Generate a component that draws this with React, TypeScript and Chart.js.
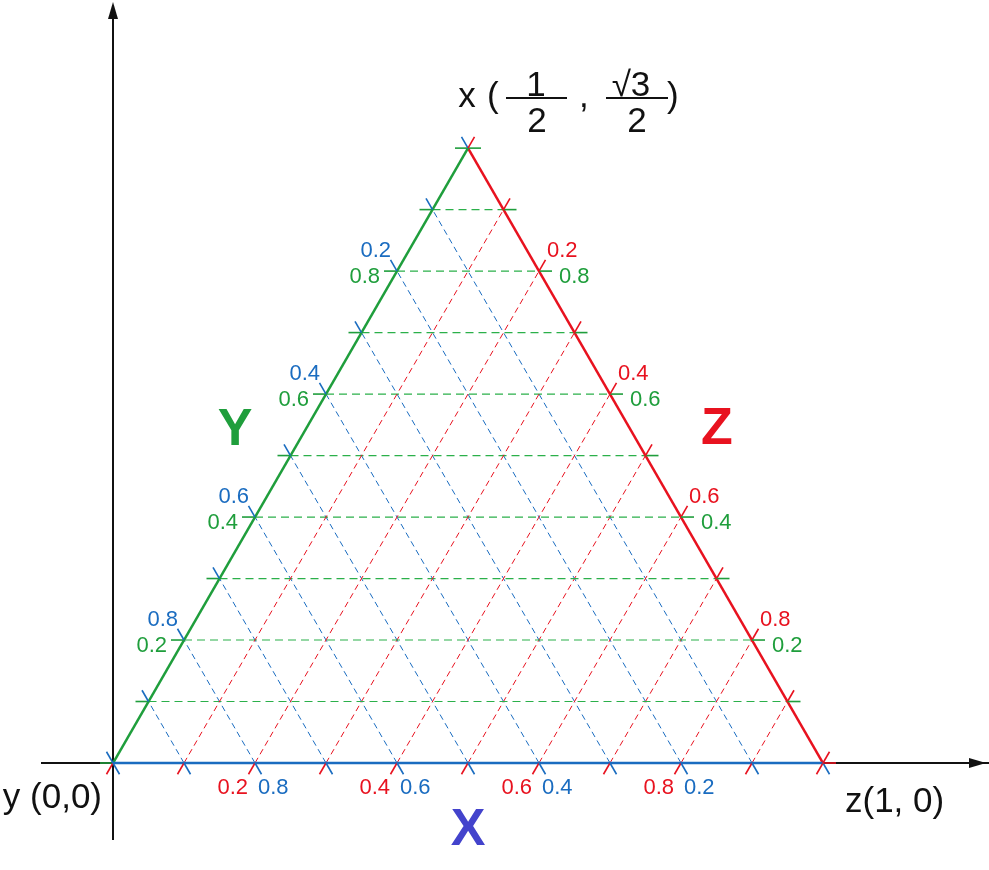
import React, { useEffect, useRef } from 'react';
import { Chart, registerables } from 'chart.js';

Chart.register(...registerables);

const H = Math.sqrt(3) / 2;

// grid divisions along each side (fraction of the side)
const gridFractions = [0, 0.1, 0.2, 0.3, 0.4, 0.5, 0.6, 0.7, 0.8, 0.9, 1];
// divisions that carry numeric tick labels
const labeledFractions = [0.2, 0.4, 0.6, 0.8];
// component names: bottom side, left side, right side
const sideNames = ['X', 'Y', 'Z'];
// vertices: bottom-left, bottom-right, top
const vertexXs = [0, 1, 0.5];
const vertexYs = [0, 0, H];
const vertexLabels = ['y (0,0)', 'z(1, 0)'];
const topLabelParts = ['x', '(', '1', '2', ',', '√3', '2', ')'];

const GREEN = '#1f9e3c';
const GRID_GREEN = '#2bb04a';
const RED = '#e8121f';
const BLUE = '#1a6cc0';
const XCOL = '#4343cc';
const BLACK = '#111111';

const UNIT = 710; // pixels per data unit
const TICK = 13 / UNIT;
const FONT = '"Liberation Sans", Arial, Helvetica, sans-serif';

type P = { x: number; y: number };

function seg(a: P, b: P, color: string, width: number, dash: number[], order: number) {
  return {
    data: [a, b],
    showLine: true,
    borderColor: color,
    backgroundColor: color,
    borderWidth: width,
    borderDash: dash,
    pointRadius: 0,
    pointHoverRadius: 0,
    fill: false,
    tension: 0,
    order,
    clip: false as any,
  };
}

function buildDatasets() {
  const ds: any[] = [];
  // axes
  ds.push(seg({ x: -72 / UNIT, y: 0 }, { x: 975 / UNIT, y: 0 }, BLACK, 2, [], 20));
  ds.push(seg({ x: 0, y: -77 / UNIT }, { x: 0, y: 750 / UNIT }, BLACK, 2, [], 20));
  const up = { x: 0.5, y: H };
  const upLeft = { x: -0.5, y: H };
  // dashed grid
  gridFractions.forEach((b) => {
    if (b === 0 || b === 1) return;
    ds.push(seg({ x: b, y: 0 }, { x: b / 2, y: b * H }, BLUE, 1, [6, 4], 10));
    ds.push(seg({ x: b, y: 0 }, { x: (1 + b) / 2, y: (1 - b) * H }, RED, 1, [6, 4], 10));
    ds.push(seg({ x: b / 2, y: b * H }, { x: 1 - b / 2, y: b * H }, GRID_GREEN, 1.2, [8, 5], 10));
  });
  // edges
  ds.push(seg({ x: vertexXs[0], y: vertexYs[0] }, { x: vertexXs[1], y: vertexYs[1] }, BLUE, 2.5, [], 5));
  ds.push(seg({ x: vertexXs[0], y: vertexYs[0] }, { x: vertexXs[2], y: vertexYs[2] }, GREEN, 2.5, [], 5));
  ds.push(seg({ x: vertexXs[1], y: vertexYs[1] }, { x: vertexXs[2], y: vertexYs[2] }, RED, 2.5, [], 5));
  // ticks
  gridFractions.forEach((b) => {
    const left = { x: b / 2, y: b * H };
    const bottom = { x: b, y: 0 };
    const right = { x: (1 + b) / 2, y: (1 - b) * H };
    const rightH = { x: 1 - b / 2, y: b * H };
    ds.push(seg(left, { x: left.x + TICK * upLeft.x, y: left.y + TICK * upLeft.y }, BLUE, 1.6, [], 1));
    ds.push(seg(bottom, { x: bottom.x - TICK * upLeft.x, y: bottom.y - TICK * upLeft.y }, BLUE, 1.6, [], 1));
    ds.push(seg(bottom, { x: bottom.x - TICK * up.x, y: bottom.y - TICK * up.y }, RED, 1.6, [], 1));
    ds.push(seg(right, { x: right.x + TICK * up.x, y: right.y + TICK * up.y }, RED, 1.6, [], 1));
    ds.push(seg(left, { x: left.x - TICK, y: left.y }, GREEN, 1.6, [], 1));
    ds.push(seg(rightH, { x: rightH.x + TICK, y: rightH.y }, b === 0 ? RED : GREEN, 1.6, [], 1));
  });
  return ds;
}

const fmt = (v: number) => v.toFixed(1);

const textPlugin = {
  id: 'ternaryText',
  afterDatasetsDraw(chart: any) {
    const { ctx } = chart;
    const sx = chart.scales.x;
    const sy = chart.scales.y;
    const px = (v: number) => sx.getPixelForValue(v);
    const py = (v: number) => sy.getPixelForValue(v);
    ctx.save();

    // arrowheads
    ctx.fillStyle = BLACK;
    const ox = px(0), oy = py(0);
    const tipY = py(761 / UNIT);
    ctx.beginPath();
    ctx.moveTo(ox, tipY);
    ctx.lineTo(ox - 5, tipY + 17);
    ctx.lineTo(ox + 5, tipY + 17);
    ctx.closePath();
    ctx.fill();
    const tipX = px(873 / UNIT);
    ctx.beginPath();
    ctx.moveTo(tipX, oy);
    ctx.lineTo(tipX - 17, oy - 5);
    ctx.lineTo(tipX - 17, oy + 5);
    ctx.closePath();
    ctx.fill();

    // tick labels
    ctx.font = `22px ${FONT}`;
    ctx.textBaseline = 'alphabetic';
    labeledFractions.forEach((b) => {
      // bottom side
      const bx = px(b), by = py(0);
      ctx.fillStyle = RED;
      ctx.textAlign = 'right';
      ctx.fillText(fmt(b), bx - 7, by + 31);
      ctx.fillStyle = BLUE;
      ctx.textAlign = 'left';
      ctx.fillText(fmt(1 - b), bx + 3, by + 31);
      // left side
      const lx = px(b / 2), ly = py(b * H);
      ctx.textAlign = 'right';
      ctx.fillStyle = BLUE;
      ctx.fillText(fmt(1 - b), lx - 6, ly - 14);
      ctx.fillStyle = GREEN;
      ctx.fillText(fmt(b), lx - 17, ly + 12);
      // right side
      const rx = px(1 - b / 2), ry = py(b * H);
      ctx.textAlign = 'left';
      ctx.fillStyle = RED;
      ctx.fillText(fmt(1 - b), rx + 8, ry - 14);
      ctx.fillStyle = GREEN;
      ctx.fillText(fmt(b), rx + 20, ry + 12);
    });

    // vertex labels
    ctx.fillStyle = BLACK;
    ctx.font = `35px ${FONT}`;
    ctx.textAlign = 'right';
    ctx.fillText(vertexLabels[0], px(vertexXs[0]) - 11, py(vertexYs[0]) + 45);
    ctx.textAlign = 'left';
    ctx.fillText(vertexLabels[1], px(vertexXs[1]) + 22, py(vertexYs[1]) + 49);

    // top vertex label with fractions
    const tx = px(vertexXs[2]), ty = py(vertexYs[2]);
    ctx.textAlign = 'center';
    ctx.fillText(topLabelParts[0], tx - 1, ty - 41);
    ctx.textAlign = 'left';
    ctx.fillText(topLabelParts[1], tx + 19, ty - 41);
    ctx.textAlign = 'center';
    ctx.fillText(topLabelParts[2], tx + 68, ty - 52);
    ctx.fillText(topLabelParts[3], tx + 69, ty - 16);
    ctx.textAlign = 'left';
    ctx.fillText(topLabelParts[4], tx + 111, ty - 41);
    ctx.textAlign = 'center';
    ctx.fillText(topLabelParts[5], tx + 163, ty - 52);
    ctx.fillText(topLabelParts[6], tx + 169, ty - 16);
    ctx.textAlign = 'left';
    ctx.fillText(topLabelParts[7], tx + 199, ty - 41);
    ctx.strokeStyle = BLACK;
    ctx.lineWidth = 2;
    ctx.beginPath();
    ctx.moveTo(tx + 38, ty - 50);
    ctx.lineTo(tx + 99, ty - 50);
    ctx.moveTo(tx + 138, ty - 50);
    ctx.lineTo(tx + 200, ty - 50);
    ctx.stroke();

    // side names
    ctx.font = `bold 52px ${FONT}`;
    ctx.textAlign = 'center';
    ctx.fillStyle = XCOL;
    ctx.fillText(sideNames[0], px(0.5), py(-82 / UNIT));
    ctx.fillStyle = GREEN;
    ctx.fillText(sideNames[1], px(122 / UNIT), py(318 / UNIT));
    ctx.fillStyle = RED;
    ctx.fillText(sideNames[2], px(604 / UNIT), py(319 / UNIT));

    ctx.restore();
  },
};

export default function App() {
  const ref = useRef<HTMLCanvasElement | null>(null);
  useEffect(() => {
    if (!ref.current) return;
    const chart = new Chart(ref.current, {
      type: 'scatter',
      data: { datasets: buildDatasets() },
      options: {
        animation: false,
        responsive: false,
        events: [],
        layout: { padding: 0 },
        plugins: { legend: { display: false }, tooltip: { enabled: false } },
        scales: {
          x: { type: 'linear', min: -113 / UNIT, max: 876 / UNIT, display: false },
          y: { type: 'linear', min: -107 / UNIT, max: 763 / UNIT, display: false },
        },
      },
      plugins: [textPlugin],
    } as any);
    return () => chart.destroy();
  }, []);
  return (
    <div style={{ position: 'absolute', left: 0, top: 0, width: 989, height: 870, background: '#fff' }}>
      <canvas ref={ref} width={989} height={870} />
    </div>
  );
}
